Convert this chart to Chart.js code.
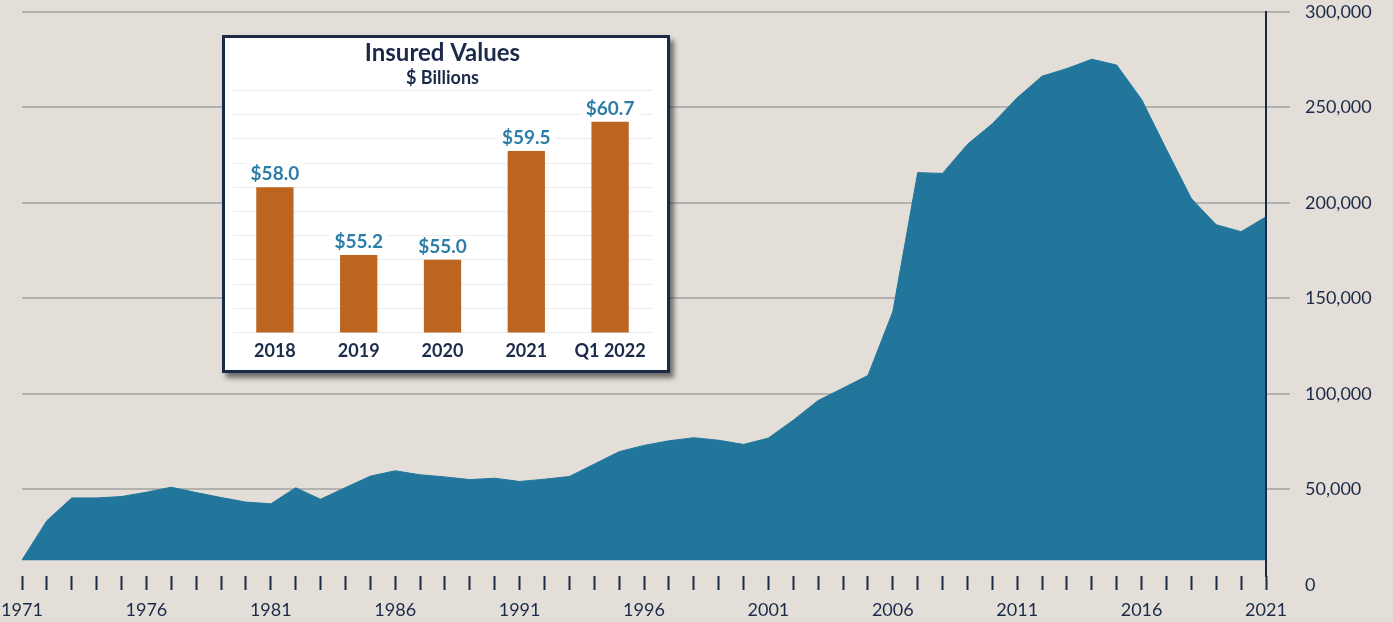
<!DOCTYPE html>
<html>
<head>
<meta charset="utf-8">
<script src="https://cdn.jsdelivr.net/npm/chart.js@4.4.0/dist/chart.umd.min.js"></script>
<style>
  body { margin: 0; background: #e3dfd8; }
  #wrap { position: relative; width: 1393px; height: 622px; }
  canvas { display: block; }
  #inset {
    position: absolute; left: 222px; top: 35px; width: 448px; height: 338px;
    box-sizing: border-box; border: 3px solid #1b2a47; background: #fff;
    box-shadow: 4px 5px 5px rgba(50, 50, 50, 0.65);
  }
</style>
</head>
<body>
<div id="wrap">
  <canvas id="mainChart" width="1393" height="622"></canvas>
  <div id="inset"><canvas id="insetChart" width="442" height="332"></canvas></div>
</div>
<script>
  // main area chart data
  const years = ['1971','1972','1973','1974','1975','1976','1977','1978','1979','1980',
    '1981','1982','1983','1984','1985','1986','1987','1988','1989','1990',
    '1991','1992','1993','1994','1995','1996','1997','1998','1999','2000',
    '2001','2002','2003','2004','2005','2006','2007','2008','2009','2010',
    '2011','2012','2013','2014','2015','2016','2017','2018','2019','2020','2021'];
  const areaValues = [13100, 33700, 45600, 45600, 46300, 48600, 51200, 48400, 45800, 43400,
    42500, 50900, 44900, 51000, 57000, 59800, 57700, 56600, 55200, 55900,
    54200, 55400, 56800, 63300, 69800, 73100, 75500, 77100, 75800, 73600,
    76900, 86300, 96600, 103100, 109700, 143100, 215900, 215500, 230700, 241500,
    255100, 266400, 270400, 275300, 272200, 254200, 228000, 202300, 188600, 185000, 192800];
  const areaBase = 13000;
  const xTickLabels = ['1971','1976','1981','1986','1991','1996','2001','2006','2011','2016','2021'];
  const yTickValues = [0, 50000, 100000, 150000, 200000, 250000, 300000];

  // inset bar chart data
  const insetLabels = ['2018', '2019', '2020', '2021', 'Q1 2022'];
  const insetValues = [58.0, 55.2, 55.0, 59.5, 60.7];

  const NAVY = '#1c2a49';
  const AREA = '#23769b';
  const GRID = '#b2b1ae';
  const ORANGE = '#bc6520';
  const TEAL = '#2b7ea7';
  const FONT = 'Lato';

  // keep the chart area exactly where layout.padding puts it
  function noScalePadding(scale) {
    scale.paddingTop = 0;
    scale.paddingBottom = 0;
    scale.paddingLeft = 0;
    scale.paddingRight = 0;
  }

  const mainChart = new Chart(document.getElementById('mainChart'), {
    type: 'line',
    data: {
      labels: years,
      datasets: [{
        data: areaValues,
        fill: { value: areaBase },
        backgroundColor: AREA,
        borderColor: AREA,
        borderWidth: 1,
        pointRadius: 0,
        tension: 0
      }]
    },
    options: {
      responsive: false,
      animation: false,
      layout: { padding: { left: 22, top: 12, right: 0, bottom: 0 } },
      plugins: { legend: { display: false }, tooltip: { enabled: false } },
      scales: {
        x: {
          offset: false,
          border: { display: false },
          grid: { drawOnChartArea: false, drawTicks: true, tickLength: 14, tickColor: NAVY, tickWidth: 2 },
          ticks: {
            autoSkip: false, maxRotation: 0, padding: 9, color: NAVY,
            font: { family: FONT, size: 18 },
            callback: function (value, index) {
              return xTickLabels.includes(years[index]) ? years[index] : '';
            }
          },
          afterFit: function (scale) { scale.height = 46; noScalePadding(scale); }
        },
        y: {
          position: 'right',
          // plot bottom sits a little above zero; the 0 label hangs below it
          min: 4712,
          max: 300000,
          afterBuildTicks: function (scale) {
            scale.ticks = yTickValues.map(v => ({ value: v }));
          },
          border: { display: true, color: NAVY, width: 2, z: 1 },
          grid: {
            color: c => (c.tick && c.tick.value === 0) ? 'rgba(0,0,0,0)' : GRID,
            lineWidth: 2,
            tickLength: 24
          },
          ticks: {
            padding: 15, color: NAVY,
            font: { family: FONT, size: 18 },
            callback: v => v.toLocaleString('en-US')
          },
          afterFit: function (scale) { scale.width = 127; noScalePadding(scale); }
        }
      }
    }
  });

  // value labels above inset bars (white box hides the grid line behind)
  const valueLabels = {
    id: 'valueLabels',
    afterDatasetsDraw(chart) {
      const ctx = chart.ctx;
      const meta = chart.getDatasetMeta(0);
      ctx.save();
      ctx.font = 'bold 19px ' + FONT;
      ctx.textAlign = 'center';
      ctx.textBaseline = 'middle';
      meta.data.forEach((bar, i) => {
        const txt = '$' + insetValues[i].toFixed(1);
        const w = ctx.measureText(txt).width;
        ctx.fillStyle = '#fff';
        ctx.fillRect(bar.x - w / 2 - 5, bar.y - 24, w + 10, 21);
        ctx.fillStyle = TEAL;
        ctx.fillText(txt, bar.x, bar.y - 13);
      });
      ctx.restore();
    }
  };

  const insetChart = new Chart(document.getElementById('insetChart'), {
    type: 'bar',
    data: {
      labels: insetLabels,
      datasets: [{
        data: insetValues,
        backgroundColor: ORANGE,
        barPercentage: 0.445,
        categoryPercentage: 1
      }]
    },
    options: {
      responsive: false,
      animation: false,
      layout: { padding: { left: 8, right: 15, top: 0, bottom: 0 } },
      plugins: {
        legend: { display: false },
        tooltip: { enabled: false },
        title: {
          display: true, text: 'Insured Values', color: NAVY,
          font: { family: FONT, size: 24, weight: 'bold' },
          padding: { top: 1, bottom: 0 }
        },
        subtitle: {
          display: true, text: '$ Billions', color: NAVY,
          font: { family: FONT, size: 18, weight: 'bold' },
          padding: { top: 0, bottom: 1 }
        }
      },
      scales: {
        x: {
          grid: { display: false, drawTicks: false },
          border: { display: false },
          ticks: { padding: 8, color: NAVY, font: { family: FONT, size: 18, weight: 'bold' } },
          afterFit: noScalePadding
        },
        y: {
          min: 52,
          max: 62,
          ticks: { display: false, stepSize: 1 },
          grid: { color: '#ececec', drawTicks: false },
          border: { display: false },
          afterFit: function (scale) { scale.width = 0; noScalePadding(scale); }
        }
      }
    },
    plugins: [valueLabels]
  });
</script>
</body>
</html>
